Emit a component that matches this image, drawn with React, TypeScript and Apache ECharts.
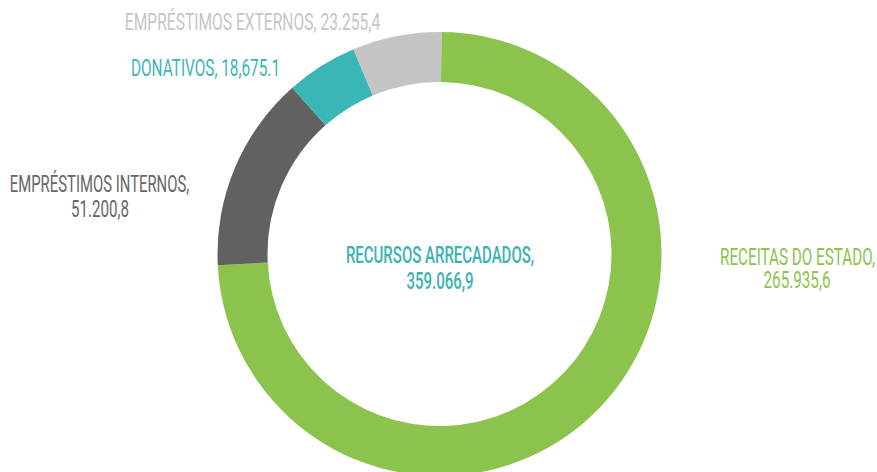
import React, { useEffect, useRef } from "react";
import * as echarts from "echarts";

const categories = ["RECEITAS DO ESTADO", "EMPRÉSTIMOS INTERNOS", "DONATIVOS", "EMPRÉSTIMOS EXTERNOS"];
const values = [265935.6, 51200.8, 18675.1, 23255.4];
const valueLabels = ["265.935,6", "51.200,8", "18,675.1", "23.255,4"];
const colors = ["#8CC34D", "#616161", "#3BB6B6", "#C4C4C4"];
const labelColors = ["#8CC34D", "#666666", "#3BB6B6", "#C6C6C6"];
const totalTitle = "RECURSOS ARRECADADOS,";
const totalLabel = "359.066,9";

const FONT = "Roboto, 'Liberation Sans', sans-serif";

function txt(text: string, x: number, y: number, fill: string, sx = 0.63, size = 24, weight: number | string = 400) {
  return {
    type: "text",
    x,
    y,
    scaleX: sx,
    silent: true,
    style: {
      text,
      fill,
      font: `${weight} ${size}px ${FONT}`,
      align: "center",
      verticalAlign: "middle",
    },
  };
}

export default function App() {
  const ref = useRef<HTMLDivElement>(null);
  useEffect(() => {
    if (!ref.current) return;
    const chart = echarts.init(ref.current, undefined, { renderer: "svg" });
    const graphic = [
      txt(`${categories[3]}, ${valueLabels[3]}`, 252.5, 22, labelColors[3], 0.65),
      txt(`${categories[2]}, ${valueLabels[2]}`, 205.5, 68, labelColors[2], 0.64),
      txt(`${categories[1]},`, 99.5, 184, labelColors[1], 0.62),
      txt(valueLabels[1], 100, 208.5, labelColors[1], 0.63),
      txt(`${categories[0]},`, 797.5, 256.5, labelColors[0], 0.635),
      txt(valueLabels[0], 797, 279.5, labelColors[0], 0.635),
      txt(totalTitle, 440, 255, "#3BB3B3", 0.625, 24, 500),
      txt(totalLabel, 440, 281, "#3BB3B3", 0.625, 24, 500),
    ];
    chart.setOption({
      animation: false,
      backgroundColor: "#ffffff",
      graphic,
      series: [
        {
          type: "pie",
          center: [439.5, 254],
          radius: [172, 222],
          startAngle: 89.5,
          clockwise: true,
          silent: true,
          label: { show: false },
          labelLine: { show: false },
          itemStyle: { borderWidth: 0 },
          data: categories.map((name, i) => ({
            name,
            value: values[i],
            itemStyle: { color: colors[i] },
          })),
        },
      ],
    });
    return () => chart.dispose();
  }, []);
  return (
    <div
      ref={ref}
      style={{ position: "fixed", left: 0, top: 0, width: 877, height: 472 }}
    />
  );
}
